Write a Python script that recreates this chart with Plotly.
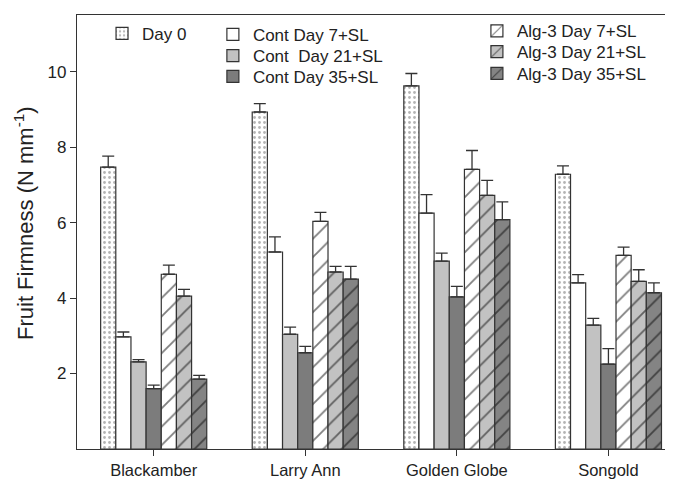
import plotly.graph_objects as go

categories = ["Blackamber", "Larry Ann", "Golden Globe", "Songold"]

series_names = ["Day 0", "Cont Day 7+SL", "Cont  Day 21+SL", "Cont Day 35+SL",
                "Alg-3 Day 7+SL", "Alg-3 Day 21+SL", "Alg-3 Day 35+SL"]

day0 = [7.47, 8.93, 9.62, 7.28]
cont_d7 = [2.97, 5.22, 6.25, 4.40]
cont_d21 = [2.31, 3.04, 4.98, 3.28]
cont_d35 = [1.60, 2.55, 4.03, 2.25]
alg_d7 = [4.63, 6.03, 7.41, 5.13]
alg_d21 = [4.05, 4.69, 6.72, 4.44]
alg_d35 = [1.85, 4.50, 6.08, 4.14]

err_day0 = [0.29, 0.22, 0.33, 0.22]
err_cont_d7 = [0.13, 0.40, 0.49, 0.22]
err_cont_d21 = [0.06, 0.19, 0.21, 0.18]
err_cont_d35 = [0.09, 0.17, 0.28, 0.41]
err_alg_d7 = [0.24, 0.24, 0.50, 0.22]
err_alg_d21 = [0.18, 0.15, 0.40, 0.31]
err_alg_d35 = [0.10, 0.34, 0.47, 0.26]

y_ticks = [2, 4, 6, 8, 10]

values = [day0, cont_d7, cont_d21, cont_d35, alg_d7, alg_d21, alg_d35]
errors = [err_day0, err_cont_d7, err_cont_d21, err_cont_d35, err_alg_d7, err_alg_d21, err_alg_d35]

fills = ["#ffffff", "#ffffff", "#c2c2c2", "#7c7c7c", "#ffffff", "#c2c2c2", "#848484"]
hatch = dict(shape="/", fgcolor="#000000", size=13, solidity=0.14)
patterns = [
    dict(shape=".", fgcolor="#6a6a6a", bgcolor="#ffffff", size=5, solidity=0.25),
    dict(shape=""), dict(shape=""), dict(shape=""),
    hatch, hatch, hatch,
]
legend_ids = ["legend", "legend2", "legend3", "legend4", "legend5", "legend6", "legend7"]
# legend placement (paper coords) for each entry
legend_pos = [(0.042, 0.998), (0.228, 0.996), (0.228, 0.947), (0.228, 0.899),
              (0.671, 1.004), (0.671, 0.956), (0.671, 0.906)]

FONT = "Liberation Sans, Arial, sans-serif"

fig = go.Figure()
for name, vals, errs, fc, pat, lg in zip(series_names, values, errors, fills, patterns, legend_ids):
    fig.add_trace(go.Bar(
        name=name, x=categories, y=vals, showlegend=True,
        marker=dict(color=fc, line=dict(color="#333333", width=1.2), pattern=pat),
        error_y=dict(type="data", symmetric=False, array=errs, arrayminus=[0] * len(errs),
                     color="#333333", thickness=1.3, width=6),
        legend=lg,
    ))

legend_layout = {}
for lg, (lx, ly) in zip(legend_ids, legend_pos):
    legend_layout[lg] = dict(x=lx, y=ly, xanchor="left", yanchor="top",
                             bgcolor="rgba(0,0,0,0)",
                             font=dict(family=FONT, size=17, color="#222222"),
                             itemwidth=30)

# the page body adds an 8px margin, so the figure is 8px smaller than the window
fig.update_layout(
    width=665, height=474,
    margin=dict(l=69, r=0, t=7, b=33, autoexpand=False),
    paper_bgcolor="white", plot_bgcolor="white",
    barmode="group", bargap=0.3, bargroupgap=0,
    font=dict(family=FONT, size=17, color="#222222"),
    xaxis=dict(range=[-0.506, 3.426], showline=True, linecolor="#333333", linewidth=1.3,
               mirror=True, ticks="outside", ticklen=6, tickcolor="#333333",
               tickfont=dict(family=FONT, size=16.5), ticklabelstandoff=0, showgrid=False,
               automargin=False),
    yaxis=dict(range=[0, 11.5], tickvals=y_ticks, showline=True, linecolor="#333333",
               linewidth=1.3, ticks="outside", ticklen=6, tickcolor="#333333",
               tickfont=dict(family=FONT, size=17), showgrid=False, zeroline=False,
               automargin=False),
    annotations=[dict(text="Fruit Firmness (N mm<sup>-1</sup>)", textangle=-90,
                      xref="paper", yref="paper", x=0, y=0.5, xanchor="center",
                      yanchor="middle", xshift=-53, yshift=9, showarrow=False,
                      font=dict(family=FONT, size=22, color="#222222"))],
    **legend_layout,
)

fig.write_html("out.html")
